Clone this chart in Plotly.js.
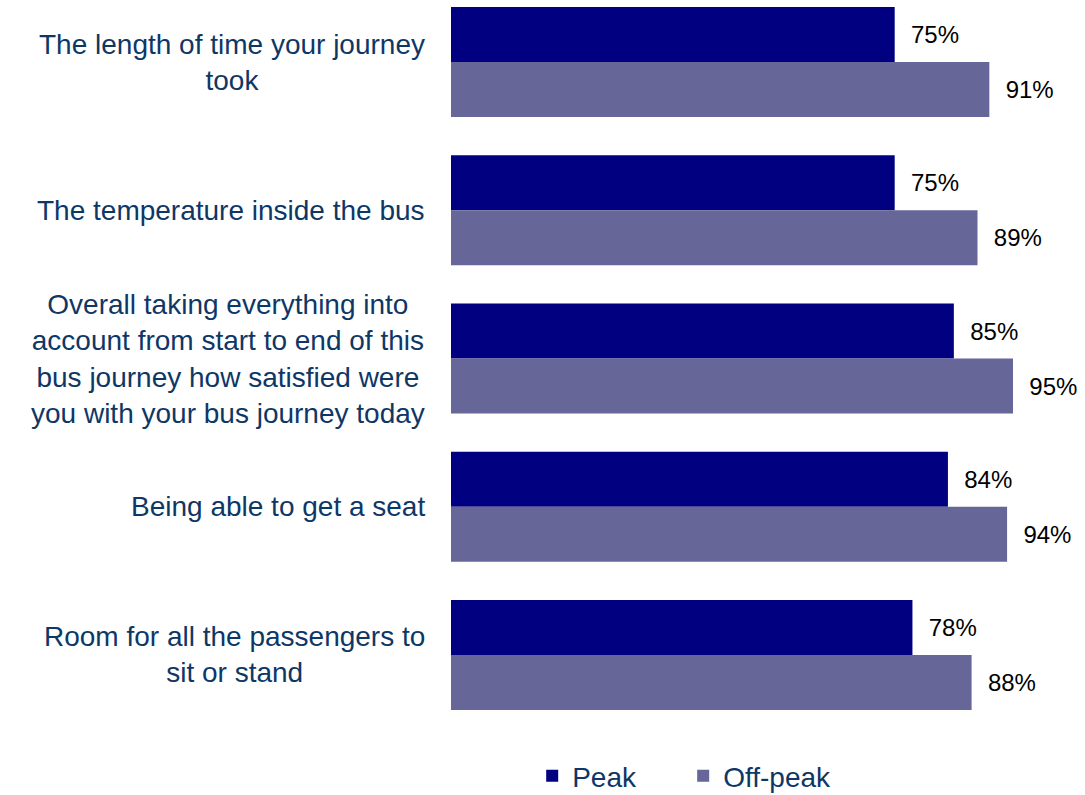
<!DOCTYPE html>
<html>
<head>
<meta charset="utf-8">
<script src="https://cdn.plot.ly/plotly-3.0.1.min.js"></script>
<style>
  html, body { margin: 0; padding: 0; background: #ffffff; }
  #chart { width: 1085px; height: 795px; }
</style>
</head>
<body>
<div id="chart"></div>
<script>
// ---- Data ----
var categories = [
  "The length of time your journey<br>took",
  "The temperature inside the bus",
  "Overall taking everything into<br>account from start to end of this<br>bus journey how satisfied were<br>you with your bus journey today",
  "Being able to get a seat",
  "Room for all the passengers to<br>sit or stand"
];
var seriesNames = ["Peak", "Off-peak"];
var peakValues = [0.75, 0.75, 0.85, 0.84, 0.78];
var offPeakValues = [0.91, 0.89, 0.95, 0.94, 0.88];

// ---- Styles ----
var FONT = "Liberation Sans, Arial, sans-serif";
var LABEL_COLOR = "#0e3766";
var colors = ["#000080", "#666699"];

var traces = [peakValues, offPeakValues].map(function (vals, i) {
  return {
    type: "bar",
    orientation: "h",
    name: seriesNames[i],
    y: categories,
    x: vals,
    marker: { color: colors[i], line: { width: 0 } },
    texttemplate: "\u00a0\u00a0%{x:.0%}",
    textposition: "outside",
    cliponaxis: false,
    textfont: { family: FONT, size: 24, color: "#000000" },
    hoverinfo: "skip"
  };
});

var annotations = categories.map(function (c) {
  return {
    xref: "paper", yref: "y",
    x: 0, y: c,
    xanchor: "right", yanchor: "middle",
    xshift: -24,
    align: "center",
    showarrow: false,
    text: c,
    font: { family: FONT, size: 28, color: LABEL_COLOR }
  };
});

var layout = {
  width: 1085,
  height: 795,
  margin: { l: 451, r: 0, t: 0, b: 55 },
  paper_bgcolor: "#ffffff",
  plot_bgcolor: "#ffffff",
  barmode: "group",
  bargap: 0.258,
  bargroupgap: 0,
  font: { family: FONT },
  xaxis: {
    range: [0, 1.0717],
    showgrid: false, zeroline: false, showticklabels: false, showline: false, ticks: ""
  },
  yaxis: {
    type: "category",
    range: [4.5734, -0.4182],
    showgrid: false, zeroline: false, showticklabels: false, showline: false, ticks: ""
  },
  showlegend: true,
  legend: {
    orientation: "h",
    traceorder: "normal",
    xref: "container", yref: "container",
    x: 0.4905, xanchor: "left",
    y: 0.0239, yanchor: "middle",
    entrywidthmode: "pixels",
    entrywidth: 106,
    font: { family: FONT, size: 28, color: LABEL_COLOR },
    bgcolor: "rgba(0,0,0,0)"
  },
  annotations: annotations
};

Plotly.newPlot("chart", traces, layout, { displayModeBar: false, staticPlot: true });
</script>
</body>
</html>
